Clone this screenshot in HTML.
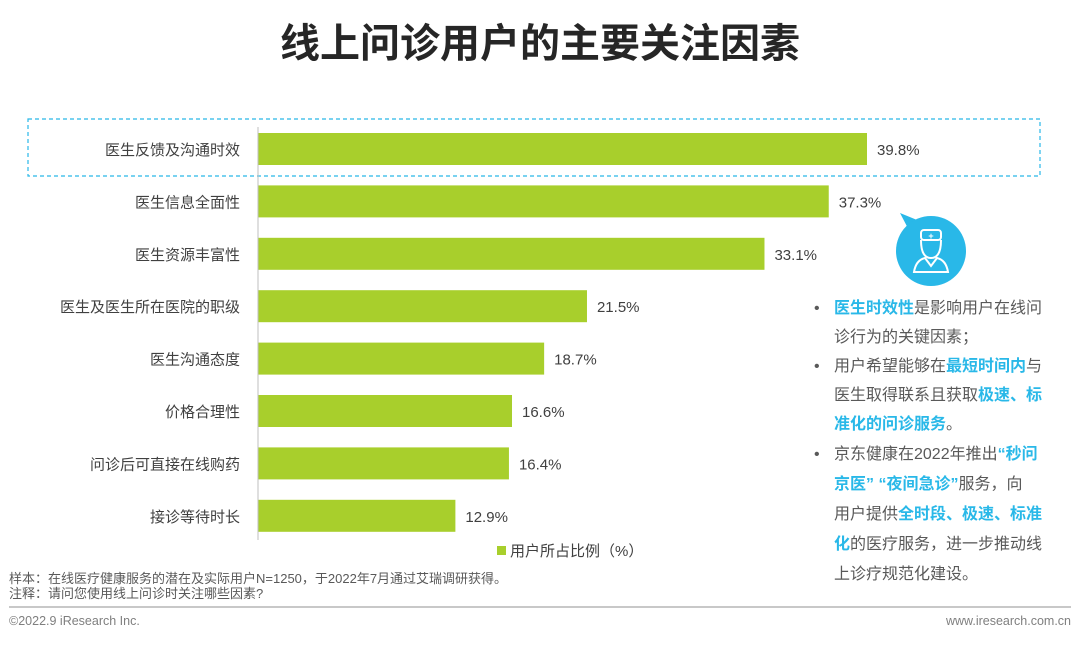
<!DOCTYPE html>
<html><head><meta charset="utf-8">
<style>
body{margin:0;background:#fff;width:1080px;height:641px;overflow:hidden;font-family:"Liberation Sans","Noto Sans CJK SC",sans-serif;}
svg text{font-family:"Liberation Sans","Noto Sans CJK SC",sans-serif;}
.hl{fill:#29b8e8;font-weight:bold;}
</style></head>
<body>
<svg width="1080" height="641" viewBox="0 0 1080 641">
<text x="540" y="57" text-anchor="middle" font-size="40" font-weight="bold" fill="#262626">线上问诊用户的主要关注因素</text>
<rect x="28" y="119" width="1012" height="57" fill="none" stroke="#29b8e8" stroke-width="1.2" stroke-dasharray="4,3"/>
<g id="bars"></g>
<line x1="258" y1="127" x2="258" y2="540" stroke="#bfbfbf" stroke-width="1"/>
<rect x="497" y="546" width="9" height="9" fill="#a8cf2c"/>
<text x="510" y="556" font-size="15" fill="#404040">用户所占比例（%）</text>
<g>
<path d="M900 213 L922 222 L912 236 Z" fill="#29b8e8"/>
<circle cx="931" cy="251" r="35" fill="#29b8e8"/>
<rect x="921" y="230" width="20" height="10" rx="3" fill="none" stroke="#fff" stroke-width="2"/>
<path d="M921 240 Q921 258 931 258 Q941 258 941 240" fill="none" stroke="#fff" stroke-width="2"/>
<path d="M914 272 Q916 260 925 258 L931 266 L937 258 Q946 260 948 272 Z" fill="none" stroke="#fff" stroke-width="2"/>
<text x="931" y="239" text-anchor="middle" font-size="9" fill="#fff" font-weight="bold">+</text>
</g>
<g font-size="16" fill="#595959">
<text x="814" y="313">•</text><text x="834" y="313"><tspan class="hl">医生时效性</tspan>是影响用户在线问</text>
<text x="834" y="342">诊行为的关键因素；</text>
<text x="814" y="371">•</text><text x="834" y="371">用户希望能够在<tspan class="hl">最短时间内</tspan>与</text>
<text x="834" y="400">医生取得联系且获取<tspan class="hl">极速、标</tspan></text>
<text x="834" y="429"><tspan class="hl">准化的问诊服务</tspan>。</text>
<text x="814" y="459">•</text><text x="834" y="459">京东健康在2022年推出<tspan class="hl">“秒问</tspan></text>
<text x="834" y="489"><tspan class="hl">京医” “夜间急诊”</tspan>服务，向</text>
<text x="834" y="519">用户提供<tspan class="hl">全时段、极速、标准</tspan></text>
<text x="834" y="549"><tspan class="hl">化</tspan>的医疗服务，进一步推动线</text>
<text x="834" y="579">上诊疗规范化建设。</text>
</g>
<text x="9" y="583" font-size="13" fill="#595959">样本：在线医疗健康服务的潜在及实际用户N=1250，于2022年7月通过艾瑞调研获得。</text>
<text x="9" y="598" font-size="13" fill="#595959">注释：请问您使用线上问诊时关注哪些因素?</text>
<line x1="9" y1="607" x2="1071" y2="607" stroke="#a6a6a6" stroke-width="1.2"/>
<text x="9" y="625" font-size="12.5" fill="#7f7f7f">©2022.9 iResearch Inc.</text>
<text x="1071" y="625" font-size="12.5" fill="#7f7f7f" text-anchor="end">www.iresearch.com.cn</text>
</svg>
<script>
const categories=["医生反馈及沟通时效","医生信息全面性","医生资源丰富性","医生及医生所在医院的职级","医生沟通态度","价格合理性","问诊后可直接在线购药","接诊等待时长"];
const values=[39.8,37.3,33.1,21.5,18.7,16.6,16.4,12.9];
const labels=["39.8%","37.3%","33.1%","21.5%","18.7%","16.6%","16.4%","12.9%"];
const x0=258,scale=(867-258)/39.8;
const xs=v=>x0+v*scale;
const ys=i=>149+i*52.4;
const g=document.getElementById('bars');
const NS='http://www.w3.org/2000/svg';
categories.forEach((c,i)=>{
  const r=document.createElementNS(NS,'rect');
  r.setAttribute('x',x0);r.setAttribute('y',ys(i)-16);
  r.setAttribute('width',xs(values[i])-x0);r.setAttribute('height',32);
  r.setAttribute('fill','#a8cf2c');
  
  
  g.appendChild(r);
  const t=document.createElementNS(NS,'text');
  t.setAttribute('x',240);t.setAttribute('y',ys(i)+6);
  t.setAttribute('text-anchor','end');t.setAttribute('font-size','15');t.setAttribute('fill','#404040');
  t.textContent=c;
  
  
  g.appendChild(t);
  const v=document.createElementNS(NS,'text');
  v.setAttribute('x',xs(values[i])+10);v.setAttribute('y',ys(i)+6);
  v.setAttribute('font-size','15');v.setAttribute('fill','#404040');
  v.textContent=labels[i];
  
  
  g.appendChild(v);
});
</script>
</body></html>
